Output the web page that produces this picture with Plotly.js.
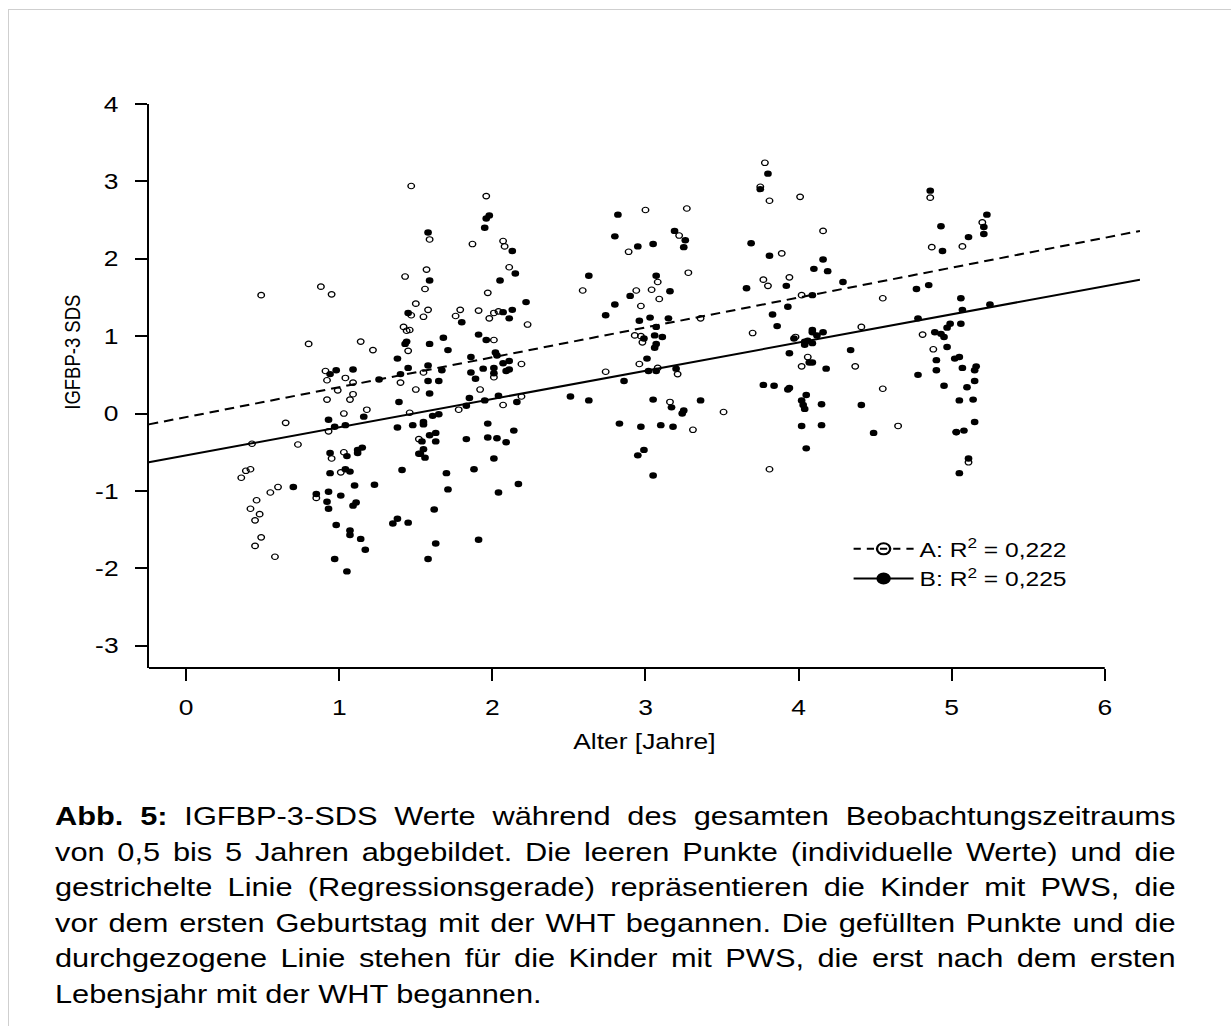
<!DOCTYPE html>
<html>
<head>
<meta charset="utf-8">
<script src="https://cdn.plot.ly/plotly-3.0.1.min.js"></script>
<style>
  html, body { margin:0; padding:0; background:#fff; overflow:hidden; width:1231px; height:1026px; }
  #frame { position:absolute; left:8px; top:9px; width:1400px; height:1200px; border:1px solid #cfcfcf; box-sizing:border-box; }
  #chart { position:absolute; left:0; top:0; width:1026px; height:790px; transform:scaleX(1.2); transform-origin:0 0; }
  #cap { position:absolute; left:55px; top:799px; width:911px; transform:scaleX(1.23); transform-origin:0 0;
         font-family:'Liberation Sans', Arial, sans-serif; font-size:25px; line-height:35.5px; color:#000; }
  #cap .j { text-align:justify; text-align-last:justify; white-space:nowrap; }
  #cap .l { text-align:left; white-space:nowrap; }
</style>
</head>
<body>
<div id="frame"></div>
<div id="chart"></div>
<div id="cap">
  <div class="j"><b>Abb. 5:</b> IGFBP-3-SDS Werte während des gesamten Beobachtungszeitraums</div>
  <div class="j">von 0,5 bis 5 Jahren abgebildet. Die leeren Punkte (individuelle Werte) und die</div>
  <div class="j">gestrichelte Linie (Regressionsgerade) repräsentieren die Kinder mit PWS, die</div>
  <div class="j">vor dem ersten Geburtstag mit der WHT begannen. Die gefüllten Punkte und die</div>
  <div class="j">durchgezogene Linie stehen für die Kinder mit PWS, die erst nach dem ersten</div>
  <div class="l">Lebensjahr mit der WHT begannen.</div>
</div>
<script>
// Group A: open circles (therapy start before first birthday)
const aX = [0.49,0.88,0.95,1.43,1.50,1.47,1.42,1.44,1.46,0.80,1.14,1.22,1.45,0.91,0.92,1.04,1.09,0.99,1.40,1.50,0.92,1.09,1.07,1.18,1.03,1.46,0.65,0.93,0.43,0.73,1.52,1.03,0.95,1.01,0.36,0.39,0.42,0.60,0.55,0.46,0.42,0.48,0.45,0.85,0.49,0.45,0.58,
  1.47,1.96,1.59,1.87,2.07,2.08,2.11,1.57,1.56,1.97,1.58,1.55,1.79,1.76,1.91,2.01,1.98,2.04,2.23,2.01,1.55,2.01,2.19,1.92,1.78,2.07,2.19,
  3.00,3.27,3.22,2.89,3.28,3.08,2.59,2.94,3.04,3.09,2.97,3.36,2.93,2.97,2.98,2.96,2.74,3.08,3.21,3.16,3.51,3.31,
  3.78,3.75,3.81,4.01,4.16,3.89,3.77,3.80,3.94,4.02,4.55,3.70,4.41,3.98,4.06,4.02,4.37,4.55,4.65,3.81,
  4.86,5.20,4.87,5.07,4.81,4.88,5.03,5.11];
const aY = [1.53,1.64,1.54,1.77,1.42,1.27,1.12,1.07,1.08,0.90,0.93,0.82,0.81,0.55,0.43,0.46,0.40,0.30,0.40,0.31,0.18,0.25,0.18,0.05,0.00,0.01,-0.12,-0.23,-0.39,-0.40,-0.33,-0.50,-0.58,-0.76,-0.83,-0.74,-0.72,-0.95,-1.02,-1.12,-1.23,-1.30,-1.38,-1.09,-1.60,-1.71,-1.85,
  2.94,2.81,2.25,2.19,2.23,2.16,1.89,1.86,1.61,1.56,1.34,1.25,1.34,1.26,1.33,1.30,1.23,1.32,1.15,0.95,0.53,0.47,0.64,0.31,0.05,0.11,0.22,
  2.63,2.65,2.30,2.09,1.82,1.70,1.59,1.59,1.60,1.48,1.39,1.23,1.01,1.00,0.92,0.64,0.54,0.59,0.51,0.15,0.02,-0.21,
  3.24,2.93,2.75,2.80,2.36,2.07,1.73,1.65,1.76,1.53,1.49,1.04,1.12,0.99,0.73,0.61,0.61,0.32,-0.16,-0.72,
  2.79,2.47,2.15,2.16,1.02,0.83,-0.24,-0.63];

// Group B: filled circles (therapy start after first birthday)
const bX = [1.45,1.44,1.43,1.38,1.45,0.98,0.94,1.09,1.26,1.40,1.39,1.16,0.93,0.97,1.04,1.38,1.48,1.12,1.15,1.12,0.94,1.05,1.52,1.41,1.04,1.07,0.94,0.70,1.23,1.10,0.85,0.93,1.01,0.92,0.93,1.11,1.09,0.98,1.38,1.35,1.45,1.07,1.07,1.14,1.17,0.97,1.05,
  1.96,1.98,1.95,1.58,2.13,2.15,1.59,2.05,2.22,2.13,2.07,2.11,1.80,1.91,1.96,1.68,1.59,1.71,1.86,2.02,2.03,1.58,1.67,1.86,1.89,1.94,2.01,2.01,2.07,2.11,2.09,2.11,1.58,1.65,1.59,1.85,1.95,2.04,2.16,1.83,1.61,1.65,1.55,1.55,1.97,1.59,1.63,1.63,1.54,1.83,1.97,2.03,2.09,2.14,1.53,1.56,1.55,2.01,1.70,1.88,1.71,2.04,2.17,1.62,1.63,1.91,1.58,
  2.82,2.80,2.95,3.05,3.19,3.26,3.25,2.63,3.07,3.16,2.90,2.80,2.74,2.96,3.03,3.15,3.07,3.06,3.11,2.99,3.07,3.06,3.01,3.02,3.07,3.20,2.86,2.51,2.63,3.05,3.17,3.25,3.24,3.36,2.83,2.97,3.10,3.18,2.99,2.95,3.05,
  3.80,3.75,3.69,3.81,4.16,4.10,4.19,4.29,3.66,3.92,4.09,3.93,4.77,3.83,3.86,4.09,4.09,4.12,4.16,3.97,4.04,4.06,4.04,4.09,4.78,3.94,4.34,4.09,4.07,4.18,4.78,3.77,3.84,3.94,3.93,4.05,4.02,4.03,4.04,4.15,4.41,4.02,4.15,4.49,4.05,
  4.86,5.23,5.21,5.21,4.93,5.11,4.94,4.85,5.06,5.07,5.25,5.06,4.99,4.97,4.89,4.93,4.95,4.97,5.05,5.02,4.90,5.07,5.16,5.15,4.90,4.95,5.10,5.15,5.05,5.14,5.15,5.03,5.08,5.11,5.05];
const bY = [1.30,0.93,0.90,0.71,0.59,0.56,0.51,0.57,0.44,0.51,0.15,-0.04,-0.08,-0.17,-0.15,-0.18,-0.15,-0.47,-0.44,-0.51,-0.51,-0.55,-0.52,-0.73,-0.72,-0.75,-0.77,-0.95,-0.92,-0.93,-1.04,-1.01,-1.06,-1.14,-1.23,-1.15,-1.19,-1.44,-1.36,-1.42,-1.41,-1.51,-1.57,-1.62,-1.76,-1.88,-2.04,
  2.52,2.56,2.40,2.34,2.10,1.81,1.72,1.72,1.44,1.34,1.31,1.23,1.18,1.02,0.95,0.98,0.90,0.82,0.73,0.79,0.75,0.62,0.56,0.53,0.45,0.58,0.59,0.52,0.65,0.68,0.55,0.57,0.42,0.42,0.26,0.20,0.17,0.23,0.15,0.10,-0.03,-0.01,-0.11,-0.14,-0.13,-0.28,-0.25,-0.36,-0.36,-0.33,-0.31,-0.32,-0.37,-0.22,-0.52,-0.57,-0.46,-0.58,-0.77,-0.72,-0.98,-1.02,-0.91,-1.24,-1.68,-1.63,-1.88,
  2.57,2.29,2.16,2.19,2.36,2.24,2.15,1.78,1.78,1.58,1.52,1.41,1.27,1.20,1.24,1.23,1.12,1.01,0.99,0.97,0.90,0.85,0.71,0.55,0.55,0.58,0.42,0.22,0.17,0.18,0.08,0.04,0.00,0.17,-0.13,-0.17,-0.15,-0.17,-0.47,-0.54,-0.80,
  3.10,2.90,2.20,2.04,1.99,1.87,1.84,1.70,1.62,1.65,1.53,1.38,1.61,1.28,1.13,1.08,1.05,1.01,1.05,0.97,0.93,0.94,0.89,0.91,1.23,0.78,0.82,0.66,0.66,0.58,0.50,0.37,0.36,0.33,0.31,0.24,0.17,0.11,0.06,0.12,0.11,-0.16,-0.15,-0.25,-0.45,
  2.88,2.57,2.41,2.32,2.42,2.28,2.10,1.66,1.49,1.34,1.41,1.16,1.16,1.11,1.05,1.03,0.99,0.86,0.73,0.71,0.69,0.59,0.61,0.56,0.56,0.36,0.34,0.42,0.17,0.18,-0.11,-0.24,-0.22,-0.58,-0.77];

// Regression lines (end points)
const lineX = [-0.244, 6.23];
const lineA = [-0.14, 2.36];
const lineB = [-0.63, 1.73];

// Legend labels and axis ticks
const legendA = 'A: R<sup>2</sup> = 0,222';
const legendB = 'B: R<sup>2</sup> = 0,225';
const xTicks = [0, 1, 2, 3, 4, 5, 6];
const xTickText = ['0', '1', '2', '3', '4', '5', '6'];
const yTicks = [-3, -2, -1, 0, 1, 2, 3, 4];
const yTickText = ['-3', '-2', '-1', '0', '1', '2', '3', '4'];
const xTitle = 'Alter [Jahre]';
const yTitle = 'IGFBP-3 SDS';

const FONT = "'Liberation Sans', Arial, sans-serif";

const traces = [
  {x: lineX, y: lineA, mode: 'lines', showlegend: false, hoverinfo: 'skip',
   line: {color: '#000', width: 2, dash: '8px,5px'}},
  {x: lineX, y: lineB, mode: 'lines', showlegend: false, hoverinfo: 'skip',
   line: {color: '#000', width: 2}},
  {x: aX, y: aY, mode: 'markers', showlegend: false,
   marker: {symbol: 'circle-open', size: 5.5, color: '#000', line: {width: 1.1, color: '#000'}}},
  {x: bX, y: bY, mode: 'markers', showlegend: false,
   marker: {symbol: 'circle', size: 6.4, color: '#000', line: {width: 0}}},
  {x: [null], y: [null], mode: 'lines+markers', name: legendA,
   line: {color: '#000', width: 2, dash: '6px,5px'},
   marker: {symbol: 'circle-open', size: 11, color: '#000', line: {width: 2, color: '#000'}}},
  {x: [null], y: [null], mode: 'lines+markers', name: legendB,
   line: {color: '#000', width: 2},
   marker: {symbol: 'circle', size: 12, color: '#000'}}
];

const layout = {
  width: 1026, height: 790,
  margin: {l: 124.4, r: 76, t: 104, b: 122, pad: 0},
  paper_bgcolor: 'rgba(0,0,0,0)', plot_bgcolor: 'rgba(0,0,0,0)',
  font: {family: FONT, color: '#000'},
  showlegend: true,
  xaxis: {
    range: [lineX[0], lineX[1]], tickvals: xTicks, ticktext: xTickText, ticks: 'outside', ticklen: 12, tickwidth: 1.7, tickcolor: '#000',
    showline: false, zeroline: false, showgrid: false, tickfont: {size: 22, family: FONT},
    ticklabelstandoff: 8,
    title: {text: xTitle, font: {size: 22, family: FONT}, standoff: 14}
  },
  yaxis: {
    range: [-3.288, 4], tickvals: yTicks, ticktext: yTickText, ticks: 'outside', ticklen: 10, tickwidth: 2, tickcolor: '#000',
    showline: true, linewidth: 1.8, linecolor: '#000', zeroline: false, showgrid: false,
    tickfont: {size: 22, family: FONT}, ticklabelstandoff: 9
  },
  shapes: [
    {type: 'line', xref: 'x', yref: 'paper', x0: lineX[0], x1: xTicks[xTicks.length - 1], y0: 0, y1: 0,
     line: {color: '#000', width: 2}}
  ],
  annotations: [
    {text: yTitle, textangle: -90, xref: 'paper', yref: 'paper', x: -0.078, y: 0.56,
     xanchor: 'center', yanchor: 'middle', showarrow: false, font: {size: 18.5, family: FONT}}
  ],
  legend: {
    x: 0.705, xanchor: 'left', y: 0.2465, yanchor: 'top',
    bgcolor: 'rgba(0,0,0,0)', borderwidth: 0, font: {size: 20.5, family: FONT},
    itemwidth: 50, tracegroupgap: 0, traceorder: 'normal'
  }
};

Plotly.newPlot('chart', traces, layout, {displayModeBar: false, staticPlot: true});
</script>
</body>
</html>
